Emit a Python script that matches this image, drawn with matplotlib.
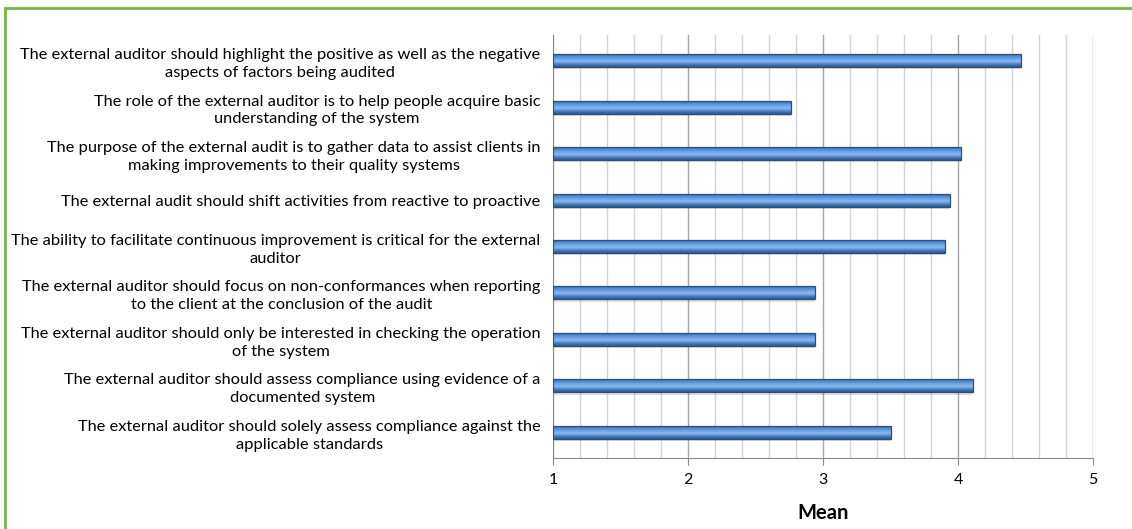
import matplotlib
matplotlib.use("Agg")
import matplotlib.pyplot as plt
import numpy as np
from matplotlib.patches import Rectangle
from matplotlib.colors import LinearSegmentedColormap

categories = [
    "The external auditor should highlight the positive as well as the negative\naspects of factors being audited",
    "The role of the external auditor is to help people acquire basic\nunderstanding of the system",
    "The purpose of the external audit is to gather data to assist clients in\nmaking improvements to their quality systems",
    "The external audit should shift activities from reactive to proactive",
    "The ability to facilitate continuous improvement is critical for the external\nauditor",
    "The external auditor should focus on non-conformances when reporting\nto the client at the conclusion of the audit",
    "The external auditor should only be interested in checking the operation\nof the system",
    "The external auditor should assess compliance using evidence of a\ndocumented system",
    "The external auditor should solely assess compliance against the\napplicable standards",
]
means = [4.47, 2.76, 4.02, 3.94, 3.90, 2.94, 2.94, 4.11, 3.50]
x_ticks = [1, 2, 3, 4, 5]

plt.rcParams['font.family'] = ['Lato', 'DejaVu Sans']

fig = plt.figure(figsize=(11.32, 5.29), dpi=100)
ax = fig.add_axes([553/1132, (529-458)/529, (1093-553)/1132, (458-35)/529])

n = len(categories)
pos = np.arange(n)[::-1]
h = 0.28

ax.set_xlim(1, 5)
ax.set_ylim(-0.55, n - 0.45)

# shadow
ax.barh(pos - 0.05, np.array(means) - 1, left=1.0, height=h, color='#000000', alpha=0.12, zorder=2, linewidth=0)
bars = ax.barh(pos, np.array(means) - 1, left=1.0, height=h, color='none',
               edgecolor='#2c4f7c', linewidth=0.9, zorder=4)
cmap = LinearSegmentedColormap.from_list('bar', ['#2b5489', '#4a7fc0', '#8dbaf0', '#6aa3e6', '#4a86cf', '#2e5a92'])
grad = np.linspace(0, 1, 64).reshape(-1, 1)
for b in bars:
    x0, y0 = b.get_x(), b.get_y()
    w, hh = b.get_width(), b.get_height()
    im = ax.imshow(grad, cmap=cmap, aspect='auto', extent=[x0, x0 + w, y0 + hh, y0],
                   origin='upper', zorder=3, interpolation='bicubic')
    im.set_clip_path(b)
    b.set_facecolor('none')

ax.set_xticks(x_ticks)
ax.set_xticks(np.arange(1, 5.01, 0.2), minor=True)
ax.grid(axis='x', which='major', color='#a6a6a6', linewidth=1.0, zorder=0)
ax.grid(axis='x', which='minor', color='#d4d4d4', linewidth=1.0, zorder=0)
ax.set_axisbelow(True)
ax.tick_params(axis='x', which='major', length=5, color='#8c8c8c', labelsize=11.5, pad=6)
ax.tick_params(axis='x', which='minor', length=0)
ax.set_yticks(pos)
ax.set_yticklabels(categories, fontsize=11.8, ha='right', multialignment='center', linespacing=1.35)
ax.tick_params(axis='y', length=0, pad=9)

for s in ['top', 'right']:
    ax.spines[s].set_visible(False)
ax.spines['left'].set_color('#8c8c8c')
ax.spines['bottom'].set_color('#8c8c8c')

ax.set_xlabel('Mean', fontsize=14.5, fontweight='bold', labelpad=11)

border = Rectangle((5/1132, -0.05), 1.2, (529-8)/529 + 0.05, transform=fig.transFigure,
                   fill=False, edgecolor='#77b347', linewidth=2, zorder=10)
fig.patches.append(border)

fig.savefig('out.png', dpi=100)
